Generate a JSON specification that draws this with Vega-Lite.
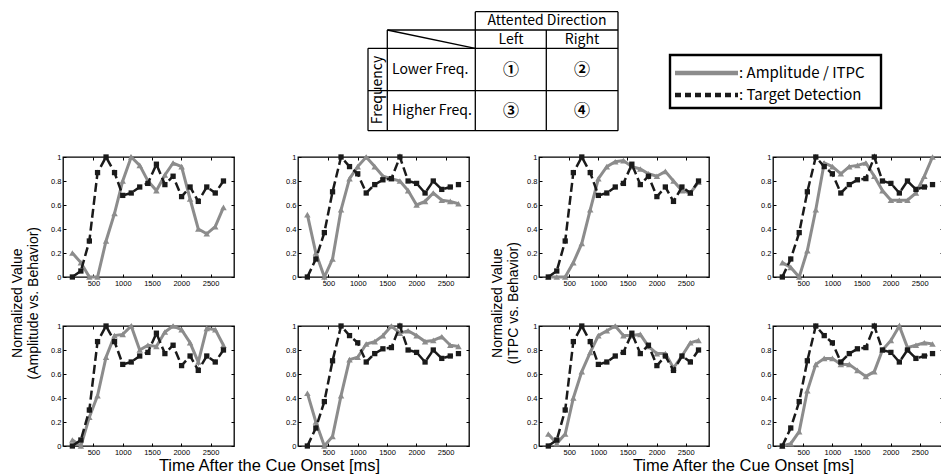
{
  "$schema": "https://vega.github.io/schema/vega-lite/v6.json",
  "padding": {"left": 10, "top": 0, "right": 0, "bottom": 0},
  "background": "white",
  "spacing": 15,
  "datasets": {
    "series": [
      {"t": 140, "A1": 0.2, "A2": 0.52, "A3": 0.05, "A4": 0.44, "C1": 0.0, "C2": 0.12, "C3": 0.1, "C4": 0.0, "BL": 0.0, "BR": 0.0},
      {"t": 285, "A1": 0.12, "A2": 0.2, "A3": 0.0, "A4": 0.2, "C1": 0.0, "C2": 0.08, "C3": 0.02, "C4": 0.02, "BL": 0.05, "BR": 0.15},
      {"t": 430, "A1": 0.0, "A2": 0.0, "A3": 0.24, "A4": 0.0, "C1": 0.0, "C2": 0.0, "C3": 0.1, "C4": 0.12, "BL": 0.3, "BR": 0.37},
      {"t": 570, "A1": 0.0, "A2": 0.15, "A3": 0.42, "A4": 0.08, "C1": 0.12, "C2": 0.22, "C3": 0.4, "C4": 0.46, "BL": 0.87, "BR": 0.71},
      {"t": 715, "A1": 0.3, "A2": 0.56, "A3": 0.74, "A4": 0.42, "C1": 0.28, "C2": 0.56, "C3": 0.62, "C4": 0.68, "BL": 1.0, "BR": 1.0},
      {"t": 860, "A1": 0.53, "A2": 0.82, "A3": 0.92, "A4": 0.72, "C1": 0.56, "C2": 0.95, "C3": 0.78, "C4": 0.73, "BL": 0.87, "BR": 0.92},
      {"t": 1000, "A1": 0.8, "A2": 0.92, "A3": 0.93, "A4": 0.74, "C1": 0.82, "C2": 0.92, "C3": 0.92, "C4": 0.73, "BL": 0.68, "BR": 0.86},
      {"t": 1145, "A1": 1.0, "A2": 1.0, "A3": 1.0, "A4": 0.85, "C1": 0.92, "C2": 0.86, "C3": 0.96, "C4": 0.68, "BL": 0.7, "BR": 0.7},
      {"t": 1290, "A1": 0.93, "A2": 0.92, "A3": 0.8, "A4": 0.87, "C1": 0.96, "C2": 0.92, "C3": 1.0, "C4": 0.68, "BL": 0.75, "BR": 0.77},
      {"t": 1430, "A1": 0.8, "A2": 0.84, "A3": 0.84, "A4": 0.92, "C1": 0.97, "C2": 0.93, "C3": 0.92, "C4": 0.63, "BL": 0.78, "BR": 0.81},
      {"t": 1575, "A1": 0.72, "A2": 0.82, "A3": 0.83, "A4": 1.0, "C1": 0.92, "C2": 0.95, "C3": 0.92, "C4": 0.58, "BL": 0.94, "BR": 0.82},
      {"t": 1720, "A1": 0.85, "A2": 0.8, "A3": 0.95, "A4": 0.94, "C1": 0.9, "C2": 0.84, "C3": 0.93, "C4": 0.62, "BL": 0.77, "BR": 1.0},
      {"t": 1860, "A1": 0.95, "A2": 0.72, "A3": 1.0, "A4": 0.96, "C1": 0.86, "C2": 0.72, "C3": 0.83, "C4": 0.8, "BL": 0.84, "BR": 0.8},
      {"t": 2005, "A1": 0.92, "A2": 0.6, "A3": 0.97, "A4": 0.92, "C1": 0.84, "C2": 0.64, "C3": 0.77, "C4": 0.88, "BL": 0.67, "BR": 0.78},
      {"t": 2150, "A1": 0.65, "A2": 0.63, "A3": 0.86, "A4": 0.87, "C1": 0.88, "C2": 0.64, "C3": 0.77, "C4": 1.0, "BL": 0.75, "BR": 0.7},
      {"t": 2290, "A1": 0.4, "A2": 0.7, "A3": 0.7, "A4": 0.88, "C1": 0.8, "C2": 0.64, "C3": 0.65, "C4": 0.82, "BL": 0.63, "BR": 0.8},
      {"t": 2435, "A1": 0.36, "A2": 0.64, "A3": 0.98, "A4": 0.91, "C1": 0.72, "C2": 0.7, "C3": 0.75, "C4": 0.84, "BL": 0.75, "BR": 0.73},
      {"t": 2580, "A1": 0.42, "A2": 0.63, "A3": 0.97, "A4": 0.84, "C1": 0.7, "C2": 0.84, "C3": 0.86, "C4": 0.86, "BL": 0.7, "BR": 0.75},
      {"t": 2720, "A1": 0.58, "A2": 0.61, "A3": 0.84, "A4": 0.83, "C1": 0.79, "C2": 1.0, "C3": 0.88, "C4": 0.85, "BL": 0.8, "BR": 0.77}
    ],
    "tableLines": [
      {"x": 477.3, "y": 11.7, "x2": 620, "y2": 11.7},
      {"x": 389.3, "y": 30, "x2": 620, "y2": 30},
      {"x": 370, "y": 48.3, "x2": 620, "y2": 48.3},
      {"x": 370, "y": 90.7, "x2": 620, "y2": 90.7},
      {"x": 370, "y": 130.7, "x2": 620, "y2": 130.7},
      {"x": 370, "y": 48.3, "x2": 370, "y2": 130.7},
      {"x": 389.3, "y": 30, "x2": 389.3, "y2": 130.7},
      {"x": 477.3, "y": 11.7, "x2": 477.3, "y2": 130.7},
      {"x": 548.3, "y": 30, "x2": 548.3, "y2": 130.7},
      {"x": 620, "y": 11.7, "x2": 620, "y2": 130.7},
      {"x": 389.3, "y": 30, "x2": 477.3, "y2": 48.3}
    ],
    "tableCenter": [
      {"x": 549, "y": 21, "label": "Attented Direction"},
      {"x": 513, "y": 39.5, "label": "Left"},
      {"x": 584, "y": 39.5, "label": "Right"}
    ],
    "tableNumbers": [
      {"x": 513, "y": 70, "label": "①"},
      {"x": 584, "y": 70, "label": "②"},
      {"x": 513, "y": 111, "label": "③"},
      {"x": 584, "y": 111, "label": "④"}
    ],
    "tableRowLabels": [
      {"x": 394, "y": 70, "label": "Lower Freq."},
      {"x": 394, "y": 111, "label": "Higher Freq."}
    ],
    "tableRotated": [
      {"x": 380, "y": 90, "label": "Frequency"}
    ],
    "legendBox": [
      {"x": 672, "x2": 883, "y": 55, "y2": 108}
    ],
    "legendItems": [
      {"x": 677, "x2": 740, "y": 73, "tx": 741, "label": ": Amplitude / ITPC", "kind": "amp"},
      {"x": 677, "x2": 740, "y": 95, "tx": 741, "label": ": Target Detection", "kind": "det"}
    ]
  },
  "vconcat": [
    {
      "width": 876,
      "height": 135,
      "view": {"stroke": null},
      "layer": [
        {
          "data": {"name": "tableLines"},
          "mark": {"type": "rule", "color": "#000", "strokeWidth": 1.3},
          "encoding": {
            "x": {"field": "x", "type": "quantitative", "scale": {"domain": [65, 941], "nice": false, "zero": false}, "axis": null},
            "x2": {"field": "x2"},
            "y": {"field": "y", "type": "quantitative", "scale": {"domain": [0, 135], "nice": false, "zero": false, "reverse": true}, "axis": null},
            "y2": {"field": "y2"}
          }
        },
        {
          "data": {"name": "tableCenter"},
          "mark": {"type": "text", "font": "Noto Sans CJK JP", "fontSize": 14, "align": "center", "baseline": "middle", "color": "#000"},
          "encoding": {
            "x": {"field": "x", "type": "quantitative"},
            "y": {"field": "y", "type": "quantitative"},
            "text": {"field": "label"}
          }
        },
        {
          "data": {"name": "tableNumbers"},
          "mark": {"type": "text", "font": "Noto Sans CJK JP", "fontSize": 16, "fontWeight": "bold", "align": "center", "baseline": "middle", "color": "#000"},
          "encoding": {
            "x": {"field": "x", "type": "quantitative"},
            "y": {"field": "y", "type": "quantitative"},
            "text": {"field": "label"}
          }
        },
        {
          "data": {"name": "tableRowLabels"},
          "mark": {"type": "text", "font": "Noto Sans CJK JP", "fontSize": 14, "align": "left", "baseline": "middle", "color": "#000"},
          "encoding": {
            "x": {"field": "x", "type": "quantitative"},
            "y": {"field": "y", "type": "quantitative"},
            "text": {"field": "label"}
          }
        },
        {
          "data": {"name": "tableRotated"},
          "mark": {"type": "text", "font": "Noto Sans CJK JP", "fontSize": 14, "align": "center", "baseline": "middle", "angle": 270, "color": "#000"},
          "encoding": {
            "x": {"field": "x", "type": "quantitative"},
            "y": {"field": "y", "type": "quantitative"},
            "text": {"field": "label"}
          }
        },
        {
          "data": {"name": "legendBox"},
          "mark": {"type": "rect", "fill": "white", "stroke": "#000", "strokeWidth": 2.4},
          "encoding": {
            "x": {"field": "x", "type": "quantitative"},
            "x2": {"field": "x2"},
            "y": {"field": "y", "type": "quantitative"},
            "y2": {"field": "y2"}
          }
        },
        {
          "data": {"name": "legendItems"},
          "transform": [{"filter": "datum.kind === 'amp'"}],
          "mark": {"type": "rule", "color": "#8c8c8c", "strokeWidth": 4.5},
          "encoding": {
            "x": {"field": "x", "type": "quantitative"},
            "x2": {"field": "x2"},
            "y": {"field": "y", "type": "quantitative"}
          }
        },
        {
          "data": {"name": "legendItems"},
          "transform": [{"filter": "datum.kind === 'det'"}],
          "mark": {"type": "rule", "color": "#1a1a1a", "strokeWidth": 4.5, "strokeDash": [6, 4]},
          "encoding": {
            "x": {"field": "x", "type": "quantitative"},
            "x2": {"field": "x2"},
            "y": {"field": "y", "type": "quantitative"}
          }
        },
        {
          "data": {"name": "legendItems"},
          "mark": {"type": "text", "font": "Noto Sans CJK JP", "fontSize": 15, "align": "left", "baseline": "middle", "color": "#000"},
          "encoding": {
            "x": {"field": "tx", "type": "quantitative"},
            "y": {"field": "y", "type": "quantitative"},
            "text": {"field": "label"}
          }
        }
      ]
    },
    {
      "spacing": 19,
      "hconcat": [
        {
          "title": {"text": "Time After the Cue Onset [ms]", "orient": "bottom", "anchor": "middle", "fontSize": 16.5, "font": "Liberation Sans", "fontWeight": "normal", "color": "#000", "offset": 2, "dx": 29},
          "vconcat": [
            {
              "title": {"text": ["Normalized Value", "(Amplitude vs. Behavior)"], "orient": "left", "anchor": "middle", "fontSize": 14, "lineHeight": 16, "font": "Liberation Sans", "fontWeight": "normal", "color": "#000", "offset": 9},
              "spacing": 31,
              "vconcat": [
                {
                  "spacing": 48,
                  "hconcat": [
                    {
                      "width": 171, "height": 120, "data": {"name": "series"},
                      "resolve": {"axis": {"x": "independent", "y": "independent"}},
                      "layer": [
                        {"mark": {"type": "line", "color": "#8c8c8c", "strokeWidth": 3, "point": {"shape": "triangle-up", "filled": true, "color": "#8c8c8c", "size": 42}},
                         "encoding": {"x": {"field": "t", "type": "quantitative", "scale": {"domain": [-20, 2900], "nice": false, "zero": false}, "axis": {"values": [500, 1000, 1500, 2000, 2500], "format": "d", "title": null, "orient": "bottom"}},
                                      "y": {"field": "A1", "type": "quantitative", "scale": {"domain": [0, 1], "nice": false}, "axis": {"values": [0, 0.2, 0.4, 0.6, 0.8, 1], "labelExpr": "'' + datum.value", "title": null, "orient": "left"}}}},
                        {"mark": {"type": "line", "color": "#1a1a1a", "strokeWidth": 2.5, "strokeDash": [9, 4], "point": {"shape": "square", "filled": true, "color": "#1a1a1a", "size": 28}},
                         "encoding": {"x": {"field": "t", "type": "quantitative", "axis": {"values": [500, 1000, 1500, 2000, 2500], "title": null, "orient": "top", "labels": false}},
                                      "y": {"field": "BL", "type": "quantitative", "axis": {"values": [0, 0.2, 0.4, 0.6, 0.8, 1], "title": null, "orient": "right", "labels": false}}}}
                      ]
                    },
                    {
                      "width": 171, "height": 120, "data": {"name": "series"},
                      "resolve": {"axis": {"x": "independent", "y": "independent"}},
                      "layer": [
                        {"mark": {"type": "line", "color": "#8c8c8c", "strokeWidth": 3, "point": {"shape": "triangle-up", "filled": true, "color": "#8c8c8c", "size": 42}},
                         "encoding": {"x": {"field": "t", "type": "quantitative", "scale": {"domain": [-20, 2900], "nice": false, "zero": false}, "axis": {"values": [500, 1000, 1500, 2000, 2500], "format": "d", "title": null, "orient": "bottom"}},
                                      "y": {"field": "A2", "type": "quantitative", "scale": {"domain": [0, 1], "nice": false}, "axis": {"values": [0, 0.2, 0.4, 0.6, 0.8, 1], "labelExpr": "'' + datum.value", "title": null, "orient": "left"}}}},
                        {"mark": {"type": "line", "color": "#1a1a1a", "strokeWidth": 2.5, "strokeDash": [9, 4], "point": {"shape": "square", "filled": true, "color": "#1a1a1a", "size": 28}},
                         "encoding": {"x": {"field": "t", "type": "quantitative", "axis": {"values": [500, 1000, 1500, 2000, 2500], "title": null, "orient": "top", "labels": false}},
                                      "y": {"field": "BR", "type": "quantitative", "axis": {"values": [0, 0.2, 0.4, 0.6, 0.8, 1], "title": null, "orient": "right", "labels": false}}}}
                      ]
                    }
                  ]
                },
                {
                  "spacing": 48,
                  "hconcat": [
                    {
                      "width": 171, "height": 120, "data": {"name": "series"},
                      "resolve": {"axis": {"x": "independent", "y": "independent"}},
                      "layer": [
                        {"mark": {"type": "line", "color": "#8c8c8c", "strokeWidth": 3, "point": {"shape": "triangle-up", "filled": true, "color": "#8c8c8c", "size": 42}},
                         "encoding": {"x": {"field": "t", "type": "quantitative", "scale": {"domain": [-20, 2900], "nice": false, "zero": false}, "axis": {"values": [500, 1000, 1500, 2000, 2500], "format": "d", "title": null, "orient": "bottom"}},
                                      "y": {"field": "A3", "type": "quantitative", "scale": {"domain": [0, 1], "nice": false}, "axis": {"values": [0, 0.2, 0.4, 0.6, 0.8, 1], "labelExpr": "'' + datum.value", "title": null, "orient": "left"}}}},
                        {"mark": {"type": "line", "color": "#1a1a1a", "strokeWidth": 2.5, "strokeDash": [9, 4], "point": {"shape": "square", "filled": true, "color": "#1a1a1a", "size": 28}},
                         "encoding": {"x": {"field": "t", "type": "quantitative", "axis": {"values": [500, 1000, 1500, 2000, 2500], "title": null, "orient": "top", "labels": false}},
                                      "y": {"field": "BL", "type": "quantitative", "axis": {"values": [0, 0.2, 0.4, 0.6, 0.8, 1], "title": null, "orient": "right", "labels": false}}}}
                      ]
                    },
                    {
                      "width": 171, "height": 120, "data": {"name": "series"},
                      "resolve": {"axis": {"x": "independent", "y": "independent"}},
                      "layer": [
                        {"mark": {"type": "line", "color": "#8c8c8c", "strokeWidth": 3, "point": {"shape": "triangle-up", "filled": true, "color": "#8c8c8c", "size": 42}},
                         "encoding": {"x": {"field": "t", "type": "quantitative", "scale": {"domain": [-20, 2900], "nice": false, "zero": false}, "axis": {"values": [500, 1000, 1500, 2000, 2500], "format": "d", "title": null, "orient": "bottom"}},
                                      "y": {"field": "A4", "type": "quantitative", "scale": {"domain": [0, 1], "nice": false}, "axis": {"values": [0, 0.2, 0.4, 0.6, 0.8, 1], "labelExpr": "'' + datum.value", "title": null, "orient": "left"}}}},
                        {"mark": {"type": "line", "color": "#1a1a1a", "strokeWidth": 2.5, "strokeDash": [9, 4], "point": {"shape": "square", "filled": true, "color": "#1a1a1a", "size": 28}},
                         "encoding": {"x": {"field": "t", "type": "quantitative", "axis": {"values": [500, 1000, 1500, 2000, 2500], "title": null, "orient": "top", "labels": false}},
                                      "y": {"field": "BR", "type": "quantitative", "axis": {"values": [0, 0.2, 0.4, 0.6, 0.8, 1], "title": null, "orient": "right", "labels": false}}}}
                      ]
                    }
                  ]
                }
              ]
            }
          ]
        },
        {
          "title": {"text": "Time After the Cue Onset [ms]", "orient": "bottom", "anchor": "middle", "fontSize": 16.5, "font": "Liberation Sans", "fontWeight": "normal", "color": "#000", "offset": 2, "dx": 26},
          "vconcat": [
            {
              "title": {"text": ["Normalized Value", "(ITPC vs. Behavior)"], "orient": "left", "anchor": "middle", "fontSize": 14, "lineHeight": 16, "font": "Liberation Sans", "fontWeight": "normal", "color": "#000", "offset": 5},
              "spacing": 31,
              "vconcat": [
                {
                  "spacing": 48,
                  "hconcat": [
                    {
                      "width": 170, "height": 120, "data": {"name": "series"},
                      "resolve": {"axis": {"x": "independent", "y": "independent"}},
                      "layer": [
                        {"mark": {"type": "line", "color": "#8c8c8c", "strokeWidth": 3, "point": {"shape": "triangle-up", "filled": true, "color": "#8c8c8c", "size": 42}},
                         "encoding": {"x": {"field": "t", "type": "quantitative", "scale": {"domain": [-20, 2900], "nice": false, "zero": false}, "axis": {"values": [500, 1000, 1500, 2000, 2500], "format": "d", "title": null, "orient": "bottom"}},
                                      "y": {"field": "C1", "type": "quantitative", "scale": {"domain": [0, 1], "nice": false}, "axis": {"values": [0, 0.2, 0.4, 0.6, 0.8, 1], "labelExpr": "'' + datum.value", "title": null, "orient": "left"}}}},
                        {"mark": {"type": "line", "color": "#1a1a1a", "strokeWidth": 2.5, "strokeDash": [9, 4], "point": {"shape": "square", "filled": true, "color": "#1a1a1a", "size": 28}},
                         "encoding": {"x": {"field": "t", "type": "quantitative", "axis": {"values": [500, 1000, 1500, 2000, 2500], "title": null, "orient": "top", "labels": false}},
                                      "y": {"field": "BL", "type": "quantitative", "axis": {"values": [0, 0.2, 0.4, 0.6, 0.8, 1], "title": null, "orient": "right", "labels": false}}}}
                      ]
                    },
                    {
                      "width": 170, "height": 120, "data": {"name": "series"},
                      "resolve": {"axis": {"x": "independent", "y": "independent"}},
                      "layer": [
                        {"mark": {"type": "line", "color": "#8c8c8c", "strokeWidth": 3, "point": {"shape": "triangle-up", "filled": true, "color": "#8c8c8c", "size": 42}},
                         "encoding": {"x": {"field": "t", "type": "quantitative", "scale": {"domain": [-20, 2900], "nice": false, "zero": false}, "axis": {"values": [500, 1000, 1500, 2000, 2500], "format": "d", "title": null, "orient": "bottom"}},
                                      "y": {"field": "C2", "type": "quantitative", "scale": {"domain": [0, 1], "nice": false}, "axis": {"values": [0, 0.2, 0.4, 0.6, 0.8, 1], "labelExpr": "'' + datum.value", "title": null, "orient": "left"}}}},
                        {"mark": {"type": "line", "color": "#1a1a1a", "strokeWidth": 2.5, "strokeDash": [9, 4], "point": {"shape": "square", "filled": true, "color": "#1a1a1a", "size": 28}},
                         "encoding": {"x": {"field": "t", "type": "quantitative", "axis": {"values": [500, 1000, 1500, 2000, 2500], "title": null, "orient": "top", "labels": false}},
                                      "y": {"field": "BR", "type": "quantitative", "axis": {"values": [0, 0.2, 0.4, 0.6, 0.8, 1], "title": null, "orient": "right", "labels": false}}}}
                      ]
                    }
                  ]
                },
                {
                  "spacing": 48,
                  "hconcat": [
                    {
                      "width": 170, "height": 120, "data": {"name": "series"},
                      "resolve": {"axis": {"x": "independent", "y": "independent"}},
                      "layer": [
                        {"mark": {"type": "line", "color": "#8c8c8c", "strokeWidth": 3, "point": {"shape": "triangle-up", "filled": true, "color": "#8c8c8c", "size": 42}},
                         "encoding": {"x": {"field": "t", "type": "quantitative", "scale": {"domain": [-20, 2900], "nice": false, "zero": false}, "axis": {"values": [500, 1000, 1500, 2000, 2500], "format": "d", "title": null, "orient": "bottom"}},
                                      "y": {"field": "C3", "type": "quantitative", "scale": {"domain": [0, 1], "nice": false}, "axis": {"values": [0, 0.2, 0.4, 0.6, 0.8, 1], "labelExpr": "'' + datum.value", "title": null, "orient": "left"}}}},
                        {"mark": {"type": "line", "color": "#1a1a1a", "strokeWidth": 2.5, "strokeDash": [9, 4], "point": {"shape": "square", "filled": true, "color": "#1a1a1a", "size": 28}},
                         "encoding": {"x": {"field": "t", "type": "quantitative", "axis": {"values": [500, 1000, 1500, 2000, 2500], "title": null, "orient": "top", "labels": false}},
                                      "y": {"field": "BL", "type": "quantitative", "axis": {"values": [0, 0.2, 0.4, 0.6, 0.8, 1], "title": null, "orient": "right", "labels": false}}}}
                      ]
                    },
                    {
                      "width": 170, "height": 120, "data": {"name": "series"},
                      "resolve": {"axis": {"x": "independent", "y": "independent"}},
                      "layer": [
                        {"mark": {"type": "line", "color": "#8c8c8c", "strokeWidth": 3, "point": {"shape": "triangle-up", "filled": true, "color": "#8c8c8c", "size": 42}},
                         "encoding": {"x": {"field": "t", "type": "quantitative", "scale": {"domain": [-20, 2900], "nice": false, "zero": false}, "axis": {"values": [500, 1000, 1500, 2000, 2500], "format": "d", "title": null, "orient": "bottom"}},
                                      "y": {"field": "C4", "type": "quantitative", "scale": {"domain": [0, 1], "nice": false}, "axis": {"values": [0, 0.2, 0.4, 0.6, 0.8, 1], "labelExpr": "'' + datum.value", "title": null, "orient": "left"}}}},
                        {"mark": {"type": "line", "color": "#1a1a1a", "strokeWidth": 2.5, "strokeDash": [9, 4], "point": {"shape": "square", "filled": true, "color": "#1a1a1a", "size": 28}},
                         "encoding": {"x": {"field": "t", "type": "quantitative", "axis": {"values": [500, 1000, 1500, 2000, 2500], "title": null, "orient": "top", "labels": false}},
                                      "y": {"field": "BR", "type": "quantitative", "axis": {"values": [0, 0.2, 0.4, 0.6, 0.8, 1], "title": null, "orient": "right", "labels": false}}}}
                      ]
                    }
                  ]
                }
              ]
            }
          ]
        }
      ]
    }
  ],
  "config": {
    "view": {"stroke": "#000", "strokeWidth": 1.3},
    "axis": {
      "labelFont": "Liberation Sans",
      "labelFontSize": 7.5,
      "labelColor": "#000",
      "tickColor": "#000",
      "tickSize": -3,
      "tickWidth": 1,
      "labelPadding": 5,
      "domain": false,
      "grid": false,
      "labelFlush": false,
      "labelOverlap": false
    }
  }
}
